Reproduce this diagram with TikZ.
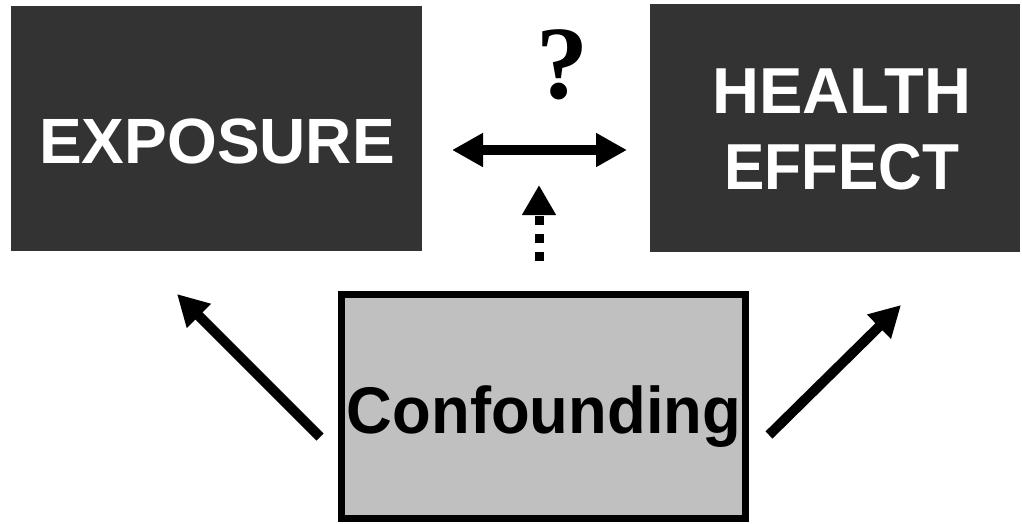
\documentclass[tikz,border=0pt]{standalone}
\usepackage{fontspec}
\setmainfont{Liberation Sans}
\newfontfamily\qfont{Liberation Serif}
\usetikzlibrary{arrows.meta}
\definecolor{darkbox}{HTML}{333333}
\definecolor{confgray}{HTML}{C0C0C0}
\begin{document}
\begin{tikzpicture}[x=1pt,y=-1pt,
  darkrect/.style={fill=darkbox,draw=none,inner sep=0pt},
  conf/.style={fill=confgray,draw=black,line width=7pt,inner sep=0pt,minimum width=404pt,minimum height=224pt},
  bigtext/.style={font=\fontsize{#1}{76}\selectfont\bfseries,inner sep=0pt},
  thickarrow/.style={line width=10pt,-{Triangle[length=31pt,width=32pt]}},
  dblarrow/.style={line width=10pt,{Triangle[length=31pt,width=32pt]}-{Triangle[length=31pt,width=32pt]}},
  dotarrow/.style={line width=9pt,dash pattern=on 9pt off 9pt,-{Triangle[length=30pt,width=32pt]}}]
\useasboundingbox (0,0) rectangle (1022,523);
% boxes
\node[darkrect,minimum width=411pt,minimum height=245pt] (exposure) at (216.5,128.5) {};
\node[darkrect,minimum width=370pt,minimum height=248pt] (health) at (835,128) {};
\node[conf] (confounding) at (543.5,406.5) {};
% texts
\node[bigtext=64,text=white,anchor=base] (exptext) at (217,163) {EXPOSURE};
\node[bigtext=65,text=white,align=center] (healthtext) at (842,129.5) {HEALTH\\\scalebox{0.93}[1]{EFFECT}};
\node[bigtext=66,text=black,anchor=base] (conftext) at (544,433) {\scalebox{0.96}[1]{Confounding}};
\node[font=\qfont\bfseries\fontsize{104}{104}\selectfont,inner sep=0pt,anchor=base] (q) at (562.5,98) {?};
% connectors
\coordinate (dblL) at (452,150);
\coordinate (dblR) at (627,150);
\draw[dblarrow] (dblL) -- (dblR);
\coordinate (dotS) at (539,261);
\coordinate (dotE) at (539,185);
\draw[dotarrow] (dotS) -- (dotE);
\coordinate (lS) at (320,437);
\coordinate (lE) at (177,294);
\draw[thickarrow] (lS) -- (lE);
\coordinate (rS) at (769,435);
\coordinate (rE) at (901,305);
\draw[thickarrow] (rS) -- (rE);
\end{tikzpicture}
\end{document}
